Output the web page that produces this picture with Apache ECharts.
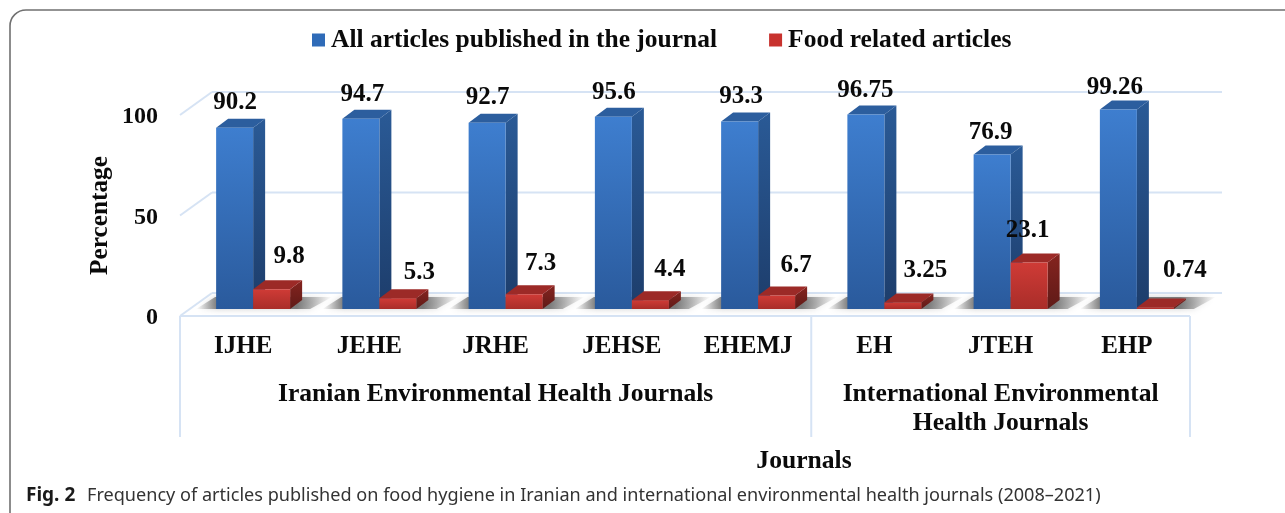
<!DOCTYPE html>
<html>
<head>
<meta charset="utf-8">
<title>Food hygiene articles in environmental health journals</title>
<style>html,body{margin:0;padding:0;background:#fff}#chart{width:1285px;height:513px}</style>
<script src="https://cdn.jsdelivr.net/npm/echarts@6/dist/echarts.min.js"></script>
</head>
<body>
<div id="chart"></div>
<script>
// Values per journal, in percent
const journals = ['IJHE', 'JEHE', 'JRHE', 'JEHSE', 'EHEMJ', 'EH', 'JTEH', 'EHP'];
const allArticles = [90.2, 94.7, 92.7, 95.6, 93.3, 96.75, 76.9, 99.26];
const foodArticles = [9.8, 5.3, 7.3, 4.4, 6.7, 3.25, 23.1, 0.74];
const groupLabels = ['', '', 'Iranian Environmental Health Journals', '', '', '', 'International Environmental\nHealth Journals', ''];
const yTicks = [0, 50, 100];
const allName = 'All articles published in the journal';
const foodName = 'Food related articles';

// Hand placement of the value labels, relative to the top of each bar
const allLabelNudge = [[-8, -25], [-7, -24], [-8, -25], [-8, -24], [-7, -25], [-9, -24], [-10, -22], [-12, -22]];
const foodLabelNudge = [[46, -33], [50, -26], [45, -31], [48, -31], [48, -30], [51, -32], [27, -32], [58, -37]];

// Pseudo-3D geometry in pixels
const serif = '"Liberation Serif", "Times New Roman", serif';
const wallDx = 32, wallDy = -23;      // depth of the floor and walls
const barLift = -7;                   // bars stand part-way back on the floor
const barDx = 12, barDy = -9;         // depth of one bar
const barWidth = 37, barStart = -27;  // blue bar left edge from category centre
const tickGap = 22, tickDrop = 2;     // tick label placement from the front edge
const wallColor = '#d6e3f4';
const ink = '#0a0a0a';
const valueFont = 'bold 25px ' + serif;
const titleFont = 'bold 25.6px ' + serif;
const tickFont = 'bold 24px ' + serif;

function grad(x, y, x2, y2, a, b) {
  return new echarts.graphic.LinearGradient(x, y, x2, y2, [{ offset: 0, color: a }, { offset: 1, color: b }]);
}

// One box: front face, side face and top face
function box(x, yTop, yBase, faces) {
  const w = barWidth;
  return [
    { type: 'polygon', shape: { points: [[x + w, yTop], [x + w + barDx, yTop + barDy], [x + w + barDx, yBase + barDy], [x + w, yBase]] },
      style: { fill: grad(0, 0, 0, 1, faces.side[0], faces.side[1]) } },
    { type: 'polygon', shape: { points: [[x, yTop], [x + barDx, yTop + barDy], [x + w + barDx, yTop + barDy], [x + w, yTop]] },
      style: { fill: faces.top } },
    { type: 'rect', shape: { x: x, y: yTop, width: w, height: yBase - yTop },
      style: { fill: grad(0, 0, 0, 1, faces.front[0], faces.front[1]) } }
  ];
}

function barRenderer(offset, faces, nudges) {
  return function (params, api) {
    const p = api.coord([api.value(0), api.value(1)]);
    const base = api.coord([api.value(0), 0]);
    const i = params.dataIndex;
    const x = base[0] + barStart + offset;
    const yTop = p[1] + barLift, yBase = base[1] + barLift;
    const kids = box(x, yTop, yBase, faces);
    kids.push({
      type: 'text',
      style: {
        text: String(api.value(1)), font: valueFont, fill: ink, align: 'center', verticalAlign: 'middle',
        x: base[0] + nudges[i][0], y: yTop + nudges[i][1]
      }
    });
    return { type: 'group', children: kids };
  };
}

// Soft floor shadow under each pair of bars
function shadowRenderer(params, api) {
  const base = api.coord([api.value(0), 0]);
  const y = base[1] + barLift, x = base[0] + barStart;
  const right = x + 2 * barWidth;
  return {
    type: 'polygon',
    shape: { points: [[x - 20, y], [x - 1, y - 12], [right + barDx + 30, y - 12], [right + 20, y]] },
    style: {
      fill: new echarts.graphic.LinearGradient(0, 0, 1, 0, [
        { offset: 0, color: 'rgba(130,130,130,0)' },
        { offset: 0.16, color: 'rgba(105,105,105,0.85)' },
        { offset: 0.74, color: 'rgba(105,105,105,0.85)' },
        { offset: 1, color: 'rgba(130,130,130,0)' }
      ]),
      shadowBlur: 6,
      shadowColor: 'rgba(130,130,130,0.45)'
    }
  };
}

// Back wall gridlines, their slanted returns to the front edge, and the tick label
function wallRenderer(params, api) {
  const c = params.coordSys;
  const v = api.value(1);
  const y = api.coord([0, v])[1];
  const line = (x1, y1, x2, y2) => ({
    type: 'line', shape: { x1, y1, x2, y2 }, style: { stroke: wallColor, lineWidth: 2 }
  });
  return {
    type: 'group',
    children: [
      line(c.x, y, c.x + wallDx, y + wallDy),
      line(c.x + wallDx, y + wallDy, c.x + c.width + wallDx, y + wallDy),
      { type: 'text', style: { text: String(v), font: tickFont, fill: ink, align: 'right', verticalAlign: 'middle',
          x: c.x - tickGap, y: y + tickDrop } }
    ]
  };
}

// Front edge and the bracket lines separating the two journal groups
function bracketRenderer(params, api) {
  const c = params.coordSys;
  const yTop = c.y + c.height, yEnd = yTop + 121;
  const line = (x1, y1, x2, y2) => ({
    type: 'line', shape: { x1, y1, x2, y2 }, style: { stroke: wallColor, lineWidth: 2 }
  });
  const step = c.width / journals.length;
  return {
    type: 'group',
    children: [
      line(c.x, yTop, c.x + c.width, yTop),
      line(c.x, yTop, c.x, yEnd),
      line(c.x + 5 * step, yTop, c.x + 5 * step, yEnd),
      line(c.x + c.width, yTop, c.x + c.width, yEnd)
    ]
  };
}

const option = {
  animation: false,
  backgroundColor: '#fff',
  textStyle: { fontFamily: serif },
  legend: {
    left: 307, top: 22, itemWidth: 13, itemHeight: 13, itemGap: 52,
    icon: 'rect', selectedMode: false,
    data: [allName, foodName],
    textStyle: { fontFamily: serif, fontWeight: 'bold', fontSize: 25.5, color: ink, padding: [0, 0, 0, 1] }
  },
  grid: { left: 180, right: 95, top: 115, height: 201 },
  xAxis: [
    {
      type: 'category', data: journals, position: 'bottom',
      axisLine: { show: false }, axisTick: { show: false },
      axisLabel: { interval: 0, margin: 18, fontFamily: serif, fontWeight: 'bold', fontSize: 25, color: ink }
    },
    {
      type: 'category', data: groupLabels, position: 'bottom', offset: 64,
      axisLine: { show: false }, axisTick: { show: false },
      axisLabel: { interval: 0, margin: 0, lineHeight: 29, fontFamily: serif, fontWeight: 'bold', fontSize: 25.6, color: ink }
    }
  ],
  yAxis: {
    type: 'value', min: 0, max: 100, interval: 50,
    name: 'Percentage', nameLocation: 'middle', nameGap: 67, nameRotate: 90,
    nameTextStyle: { fontFamily: serif, fontWeight: 'bold', fontSize: 25.3, color: ink },
    axisLine: { show: false }, axisTick: { show: false }, splitLine: { show: false },
    axisLabel: { show: false }
  },
  series: [
    { name: 'walls', type: 'custom', silent: true, z: 1, renderItem: wallRenderer, encode: { y: 1 },
      data: yTicks.map(v => [0, v]) },
    { name: 'brackets', type: 'custom', silent: true, z: 1, renderItem: bracketRenderer, data: [[0, 0]] },
    { name: 'shadows', type: 'custom', silent: true, z: 2, renderItem: shadowRenderer,
      data: journals.map((j, i) => [i, 0]) },
    { name: allName, type: 'custom', z: 3, itemStyle: { color: '#2f6bb8' }, encode: { x: 0, y: 1 },
      renderItem: barRenderer(0, { front: ['#3e7ecf', '#2a5a9c'], side: ['#2a5a96', '#1d3d6b'], top: '#2c5e9e' }, allLabelNudge),
      data: allArticles.map((v, i) => [i, v]) },
    { name: foodName, type: 'custom', z: 4, itemStyle: { color: '#c8322e' }, encode: { x: 0, y: 1 },
      renderItem: barRenderer(barWidth, { front: ['#cf3b36', '#a92d29'], side: ['#85241f', '#5f1a17'], top: '#9c2a27' }, foodLabelNudge),
      data: foodArticles.map((v, i) => [i, v]) }
  ],
  graphic: [
    { type: 'rect', silent: true, shape: { x: 10, y: 10, width: 1500, height: 700, r: 16 },
      style: { fill: 'none', stroke: '#707070', lineWidth: 1.6 } },
    { type: 'text', silent: true, style: { x: 804, y: 461, text: 'Journals', font: titleFont, fill: ink, align: 'center', verticalAlign: 'middle' } },
    { type: 'text', silent: true, style: { x: 26, y: 496, verticalAlign: 'middle', text: 'Fig. 2', font: 'bold 19px "Noto Sans"', fill: '#1a1a1a' } },
    { type: 'text', silent: true, style: { x: 87, y: 496, verticalAlign: 'middle', font: '18.1px "Noto Sans"', fill: '#333',
        text: 'Frequency of articles published on food hygiene in Iranian and international environmental health journals (2008–2021)' } }
  ]
};

const chart = echarts.init(document.getElementById('chart'), null, { renderer: 'canvas' });
chart.setOption(option);
</script>
</body>
</html>
